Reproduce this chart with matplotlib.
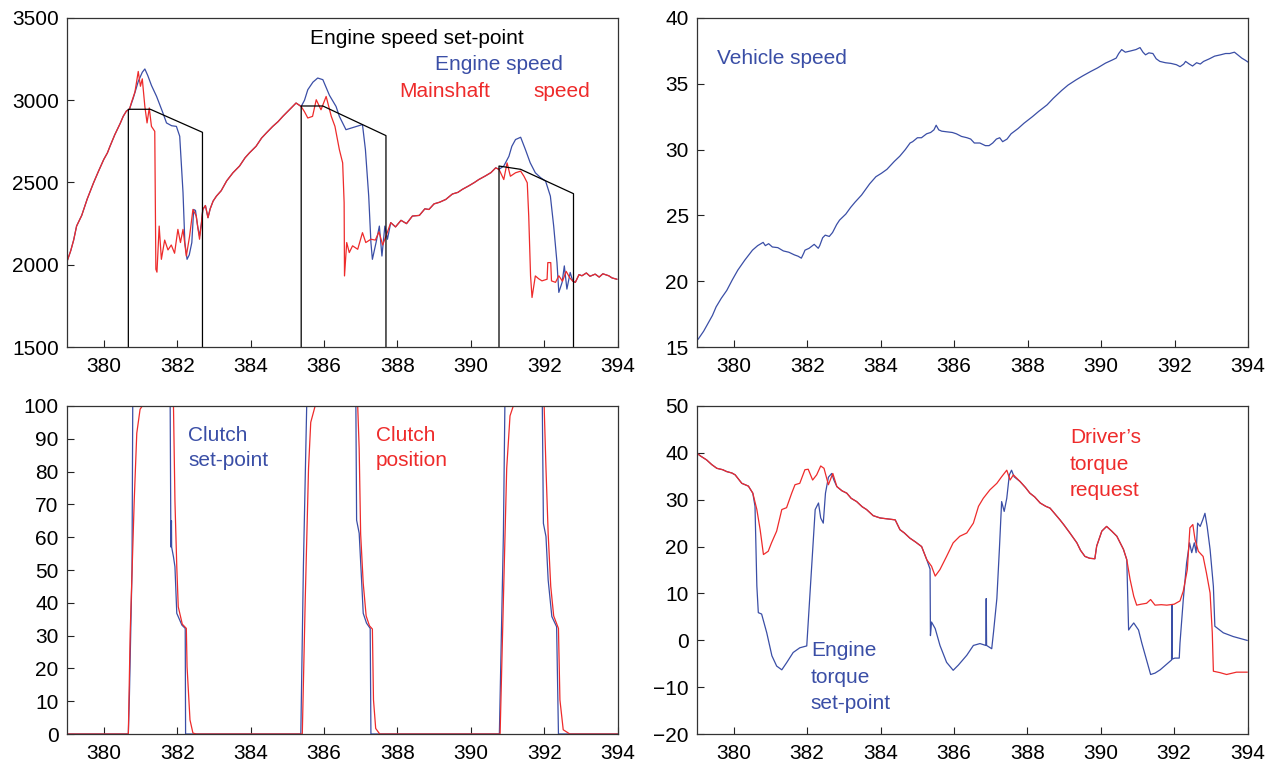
import matplotlib
matplotlib.use("Agg")
import matplotlib.pyplot as plt

BLUE = "#3a4ea6"
RED = "#ee2b2b"

# ---- engine / mainshaft speed (rpm) ----
rise1 = [(379.0, 2020), (379.1, 2085), (379.18, 2150), (379.26, 2235), (379.4, 2300),
         (379.55, 2400), (379.72, 2497), (379.85, 2565), (380.0, 2640), (380.1, 2680),
         (380.17, 2720), (380.3, 2790), (380.45, 2860), (380.53, 2902), (380.62, 2935)]
eng_pk1 = [(380.7, 2945), (380.8, 3010), (380.94, 3114), (381.05, 3170), (381.12, 3190),
           (381.2, 3150), (381.3, 3090), (381.44, 3023), (381.6, 2930), (381.71, 2862),
           (381.85, 2845), (381.98, 2841), (382.07, 2781), (382.16, 2438), (382.21, 2135),
           (382.27, 2033), (382.33, 2060), (382.4, 2135), (382.45, 2336), (382.5, 2330),
           (382.56, 2230), (382.61, 2175), (382.66, 2250)]
ms_pk1 = [(380.7, 2945), (380.76, 2990), (380.85, 3050), (380.94, 3175), (381.0, 3085),
          (381.05, 3130), (381.12, 2962), (381.18, 2862), (381.24, 2953), (381.3, 2841),
          (381.39, 2811), (381.42, 1973), (381.45, 1955), (381.51, 2235), (381.57, 2033),
          (381.66, 2150), (381.75, 2090), (381.84, 2120), (381.93, 2070), (382.02, 2215),
          (382.09, 2135), (382.16, 2215), (382.25, 2053), (382.34, 2175), (382.43, 2336),
          (382.52, 2296), (382.61, 2155), (382.66, 2250)]
rise2 = [(382.7, 2336), (382.77, 2360), (382.84, 2286), (382.9, 2340), (382.98, 2387),
         (383.07, 2417), (383.2, 2450), (383.35, 2510), (383.52, 2559), (383.7, 2600),
         (383.85, 2650), (383.97, 2680), (384.15, 2720), (384.3, 2770), (384.43, 2801),
         (384.6, 2840), (384.75, 2870), (384.88, 2902), (385.05, 2940), (385.24, 2983),
         (385.38, 2962)]
eng_pk2 = [(385.47, 3000), (385.56, 3064), (385.7, 3110), (385.83, 3135), (385.97, 3125),
           (386.15, 3030), (386.33, 2962), (386.42, 2902), (386.6, 2821), (386.8, 2835),
           (387.05, 2852), (387.13, 2700), (387.22, 2417), (387.28, 2135), (387.32, 2033),
           (387.42, 2135), (387.51, 2235), (387.58, 2053), (387.66, 2235), (387.73, 2155)]
ms_pk2 = [(385.47, 2930), (385.56, 2892), (385.69, 2902), (385.79, 3003), (385.92, 2942),
          (386.06, 3023), (386.2, 2902), (386.3, 2841), (386.42, 2700), (386.51, 2619),
          (386.55, 2377), (386.56, 1932), (386.62, 2135), (386.69, 2074), (386.78, 2115),
          (386.92, 2094), (387.05, 2195), (387.14, 2135), (387.28, 2155), (387.4, 2150),
          (387.5, 2200), (387.6, 2120), (387.7, 2180)]
rise3 = [(387.82, 2256), (387.95, 2230), (388.1, 2270), (388.25, 2250), (388.41, 2296),
         (388.6, 2300), (388.75, 2340), (388.86, 2336), (389.0, 2370), (389.15, 2380),
         (389.32, 2397), (389.5, 2430), (389.65, 2440), (389.77, 2458), (389.95, 2480),
         (390.1, 2500), (390.22, 2518), (390.4, 2540), (390.55, 2560), (390.68, 2589),
         (390.77, 2580)]
eng_pk3 = [(390.9, 2600), (391.04, 2659), (391.12, 2720), (391.22, 2761), (391.36, 2775),
           (391.49, 2700), (391.62, 2620), (391.76, 2559), (391.9, 2530), (392.04, 2508),
           (392.17, 2417), (392.26, 2235), (392.35, 2013), (392.4, 1832), (392.49, 1893),
           (392.55, 1993), (392.62, 1852), (392.71, 1953), (392.78, 1900)]
ms_pk3 = [(390.9, 2518), (390.99, 2619), (391.08, 2538), (391.22, 2559), (391.36, 2569),
          (391.45, 2538), (391.54, 2498), (391.58, 2296), (391.63, 1932), (391.67, 1801),
          (391.76, 1932), (391.85, 1915), (391.94, 1902), (392.08, 1912), (392.1, 2013),
          (392.18, 2013), (392.2, 1902), (392.31, 1893), (392.4, 1933), (392.5, 1900),
          (392.6, 1960), (392.7, 1920), (392.78, 1900)]
tail = [(392.85, 1893), (392.95, 1940), (393.03, 1933), (393.15, 1950), (393.25, 1930),
        (393.39, 1943), (393.5, 1925), (393.6, 1945), (393.76, 1933), (393.85, 1920),
        (393.98, 1912)]
setpoint_segs = [
    [(380.67, 1500), (380.67, 2945), (381.27, 2945), (382.69, 2805), (382.69, 1500)],
    [(385.38, 1500), (385.38, 2965), (385.97, 2965), (387.69, 2785), (387.69, 1500)],
    [(390.77, 1500), (390.77, 2600), (391.36, 2580), (392.8, 2432), (392.8, 1500)],
]

engine_speed = rise1 + eng_pk1 + rise2 + eng_pk2 + rise3 + eng_pk3 + tail
mainshaft_speed = rise1 + ms_pk1 + rise2 + ms_pk2 + rise3 + ms_pk3 + tail

# ---- vehicle speed (km/h) ----
vehicle_speed = [
    (379.0, 15.5), (379.04, 15.63), (379.18, 16.2), (379.32, 16.9), (379.42, 17.4),
    (379.52, 18.05), (379.66, 18.7), (379.81, 19.3), (379.96, 20.1), (380.11, 20.84),
    (380.3, 21.6), (380.51, 22.36), (380.65, 22.7), (380.8, 22.95), (380.86, 22.7),
    (380.95, 22.85), (381.05, 22.6), (381.2, 22.55), (381.35, 22.3), (381.5, 22.2),
    (381.65, 22.0), (381.75, 21.9), (381.84, 21.75), (381.9, 22.1), (381.94, 22.36),
    (382.05, 22.5), (382.19, 22.8), (382.3, 22.5), (382.34, 22.7), (382.42, 23.3),
    (382.49, 23.5), (382.6, 23.4), (382.69, 23.7), (382.8, 24.3), (382.88, 24.64),
    (383.05, 25.1), (383.18, 25.6), (383.3, 26.0), (383.48, 26.55), (383.7, 27.4),
    (383.87, 27.94), (384.02, 28.2), (384.17, 28.5), (384.37, 29.1), (384.52, 29.5),
    (384.67, 30.0), (384.8, 30.5), (384.87, 30.6), (385.0, 30.9), (385.11, 30.9),
    (385.25, 31.2), (385.36, 31.3), (385.45, 31.5), (385.51, 31.85), (385.58, 31.5),
    (385.66, 31.4), (385.8, 31.35), (385.95, 31.3), (386.06, 31.2), (386.2, 31.0),
    (386.35, 30.9), (386.45, 30.8), (386.55, 30.5), (386.7, 30.5), (386.85, 30.3),
    (386.95, 30.3), (387.05, 30.5), (387.15, 30.8), (387.24, 30.9), (387.32, 30.6),
    (387.44, 30.8), (387.55, 31.2), (387.74, 31.6), (387.9, 32.0), (388.13, 32.5),
    (388.3, 32.9), (388.53, 33.4), (388.7, 33.9), (388.93, 34.5), (389.1, 34.9),
    (389.32, 35.3), (389.5, 35.6), (389.72, 35.94), (389.9, 36.2), (390.12, 36.57),
    (390.3, 36.8), (390.41, 36.95), (390.48, 37.3), (390.56, 37.6), (390.66, 37.4),
    (390.81, 37.5), (390.95, 37.6), (391.06, 37.75), (391.14, 37.4), (391.21, 37.2),
    (391.3, 37.35), (391.41, 37.3), (391.5, 36.9), (391.6, 36.7), (391.75, 36.6),
    (391.9, 36.55), (392.05, 36.45), (392.15, 36.3), (392.25, 36.5), (392.3, 36.7),
    (392.4, 36.5), (392.49, 36.35), (392.6, 36.6), (392.7, 36.5), (392.79, 36.7),
    (392.95, 36.9), (393.09, 37.1), (393.25, 37.2), (393.39, 37.3), (393.5, 37.3),
    (393.63, 37.4), (393.72, 37.2), (393.83, 36.95), (393.92, 36.8), (394.0, 36.65),
]

# ---- clutch (%) ----
clutch_setpoint = [
    (379.0, 0), (380.67, 0), (380.7, 12), (380.77, 50), (380.79, 100), (381.81, 100),
    (381.83, 57), (381.845, 65), (381.85, 57), (381.9, 54), (381.94, 51), (381.99, 36.8),
    (382.13, 33.2), (382.22, 32.2), (382.23, 0), (385.37, 0), (385.44, 51), (385.53, 100),
    (386.87, 100), (386.89, 65.2), (386.96, 61.2), (387.03, 45.9), (387.07, 36.8),
    (387.16, 33.8), (387.26, 32.2), (387.28, 0), (390.78, 0), (390.89, 61), (390.93, 100),
    (391.95, 100), (391.98, 64.2), (392.05, 60.2), (392.11, 46.9), (392.21, 35.8),
    (392.34, 32.7), (392.39, 0), (394.0, 0),
]
clutch_position = [
    (379.0, 0), (380.67, 0), (380.72, 30.7), (380.83, 71), (380.9, 91.7), (380.99, 99),
    (381.05, 100), (381.9, 100), (381.94, 71), (381.99, 51), (382.03, 38.8), (382.14, 33.5),
    (382.25, 32.2), (382.27, 20.5), (382.35, 4.3), (382.43, 0.3), (382.52, 0),
    (385.41, 0), (385.49, 40.9), (385.58, 81), (385.64, 95), (385.76, 100),
    (386.92, 100), (386.96, 87), (387.0, 61), (387.07, 46), (387.15, 36), (387.24, 33),
    (387.32, 32), (387.35, 10.4), (387.41, 1.7), (387.52, 0),
    (390.8, 0), (390.89, 41), (390.98, 81), (391.07, 97), (391.16, 100),
    (392.0, 100), (392.05, 81), (392.11, 61), (392.18, 45), (392.26, 36), (392.39, 32.2),
    (392.43, 10.4), (392.52, 1.3), (392.7, 0), (394.0, 0),
]

# ---- torque (%) ----
tq_a = [(379.0, 39.9), (379.1, 39.3), (379.26, 38.5), (379.4, 37.5), (379.54, 36.7),
        (379.7, 36.4), (379.81, 36.0), (379.95, 35.7), (380.04, 35.3), (380.22, 33.5),
        (380.4, 32.9), (380.52, 31.4)]
tq_b = [(382.81, 32.8), (382.95, 31.9), (383.08, 31.4), (383.2, 30.3), (383.35, 29.6),
        (383.5, 28.5), (383.62, 27.9), (383.8, 26.6), (383.99, 26.1), (384.2, 25.9),
        (384.4, 25.7), (384.53, 23.6), (384.65, 22.9), (384.8, 21.8), (384.95, 21.0),
        (385.12, 20.0), (385.26, 17.2)]
tq_c = [(387.8, 33.9), (387.95, 32.6), (388.07, 31.4), (388.2, 30.6), (388.35, 29.3),
        (388.5, 28.6), (388.62, 28.2), (388.75, 27.0), (388.89, 25.7), (389.0, 24.6),
        (389.16, 22.9), (389.35, 20.8), (389.45, 19.2), (389.57, 17.9), (389.7, 17.5),
        (389.84, 17.4), (389.89, 20.1), (390.03, 23.3), (390.16, 24.3), (390.3, 23.3),
        (390.44, 22.2), (390.62, 19.4), (390.71, 17.2)]
drv_1 = [(380.63, 27.9), (380.72, 23.6), (380.81, 18.3), (380.94, 19.0), (381.03, 20.8),
         (381.17, 23.3), (381.31, 27.9), (381.44, 28.3), (381.58, 31.4), (381.67, 33.2),
         (381.8, 33.5), (381.94, 36.4), (382.03, 36.5), (382.15, 34.2), (382.26, 35.3),
         (382.37, 37.2), (382.46, 36.7), (382.58, 33.2), (382.7, 35.6)]
drv_2 = [(385.39, 15.8), (385.49, 13.7), (385.62, 15.1), (385.8, 17.9), (385.98, 20.8),
         (386.16, 22.2), (386.35, 22.9), (386.53, 25.0), (386.67, 28.6), (386.8, 30.3),
         (386.98, 32.1), (387.17, 33.5), (387.3, 34.9), (387.44, 36.3), (387.53, 34.2),
         (387.62, 35.3)]
drv_3 = [(390.8, 13.0), (390.9, 9.4), (390.98, 7.5), (391.1, 7.7), (391.25, 7.9),
         (391.36, 8.7), (391.48, 7.5), (391.65, 7.6), (391.8, 7.5), (392.0, 7.7),
         (392.16, 8.4), (392.25, 10.5), (392.36, 15.1), (392.43, 24.0), (392.51, 24.7),
         (392.57, 21.5), (392.66, 19.0), (392.79, 17.9), (392.88, 14.4), (392.98, 10.1),
         (393.04, 1.6), (393.07, -6.6), (393.25, -6.9), (393.43, -7.3), (393.7, -6.8),
         (393.99, -6.8)]
eng_1 = [(380.58, 28.6), (380.63, 11.6), (380.67, 5.9), (380.76, 5.6), (380.9, 1.6),
         (381.04, -3.3), (381.17, -5.5), (381.31, -6.3), (381.44, -4.8), (381.62, -2.6),
         (381.8, -1.6), (381.99, -1.2), (382.08, 10.1), (382.17, 21.5), (382.22, 27.9),
         (382.31, 29.3), (382.37, 26.1), (382.44, 25.0), (382.5, 31.4), (382.58, 34.8),
         (382.67, 35.6), (382.73, 34.2)]
eng_2 = [(385.35, 15.2), (385.36, 1.0), (385.39, 3.9), (385.49, 2.5), (385.62, -1.1),
         (385.8, -4.7), (385.98, -6.4), (386.12, -5.3), (386.35, -3.2), (386.53, -1.1),
         (386.71, -0.7), (386.87, -1.1), (386.88, 8.9), (386.89, -1.1), (387.03, -1.8),
         (387.08, 1.8), (387.17, 8.9), (387.24, 19.6), (387.3, 29.6), (387.37, 27.5),
         (387.44, 30.3), (387.51, 35.3), (387.57, 36.3), (387.64, 34.9)]
eng_3 = [(390.76, 2.2), (390.82, 2.9), (390.9, 3.7), (391.03, 2.2), (391.12, -0.6),
         (391.25, -4.2), (391.36, -7.3), (391.48, -7.0), (391.62, -6.3), (391.84, -4.8),
         (391.93, -4.2), (391.94, 7.6), (391.95, -4.0), (392.02, -3.8), (392.14, -3.8),
         (392.16, -0.6), (392.25, 8.7), (392.34, 16.5), (392.42, 20.8), (392.48, 18.7),
         (392.55, 20.8), (392.6, 18.7), (392.64, 25.0), (392.71, 24.3), (392.78, 25.7),
         (392.84, 27.1), (392.9, 24.3), (392.98, 19.4), (393.07, 11.5), (393.11, 3.0),
         (393.34, 1.6), (393.61, 0.8), (393.99, -0.02)]

driver_torque = tq_a + drv_1 + tq_b + drv_2 + tq_c + drv_3
engine_torque = tq_a + eng_1 + tq_b + eng_2 + tq_c + eng_3

x_ticks = [380, 382, 384, 386, 388, 390, 392, 394]


def style_axes(ax, ylim, yticks):
    ax.set_xlim(379, 394)
    ax.set_ylim(*ylim)
    ax.set_xticks(x_ticks)
    ax.set_yticks(yticks)
    ax.tick_params(direction="in", length=5, width=0.8, labelsize=15, pad=6,
                   colors="#222222", labelcolor="black")
    ax.tick_params(axis="x", pad=7)
    for sp in ax.spines.values():
        sp.set_color("#333333")
        sp.set_linewidth(0.9)


def draw(ax, pairs, color, lw=0.9):
    t, v = zip(*pairs)
    ax.plot(t, v, color=color, lw=lw)


plt.rcParams["font.family"] = ["Liberation Sans", "DejaVu Sans"]

fig = plt.figure(figsize=(12.82, 7.65), dpi=100)
ax1 = fig.add_axes([0.0523, 0.5464, 0.4294, 0.4301])
ax2 = fig.add_axes([0.5437, 0.5464, 0.4298, 0.4301])
ax3 = fig.add_axes([0.0523, 0.0405, 0.4294, 0.4288])
ax4 = fig.add_axes([0.5437, 0.0405, 0.4294, 0.4288])

# top left
draw(ax1, engine_speed, BLUE)
draw(ax1, mainshaft_speed, RED)
for seg in setpoint_segs:
    draw(ax1, seg, "black")
style_axes(ax1, (1500, 3500), [1500, 2000, 2500, 3000, 3500])
ax1.text(385.62, 3378, "Engine speed set-point", fontsize=15, va="center")
ax1.text(389.03, 3215, "Engine speed", fontsize=15, va="center", color=BLUE)
ax1.text(388.05, 3056, "Mainshaft", fontsize=15, va="center", color=RED)
ax1.text(391.7, 3056, "speed", fontsize=15, va="center", color=RED)

# top right
draw(ax2, vehicle_speed, BLUE)
style_axes(ax2, (15, 40), [15, 20, 25, 30, 35, 40])
ax2.text(379.54, 36.89, "Vehicle speed", fontsize=15, va="center", color=BLUE)

# bottom left
draw(ax3, clutch_setpoint, BLUE)
draw(ax3, clutch_position, RED)
style_axes(ax3, (0, 100), list(range(0, 101, 10)))
ax3.text(382.3, 93.9, "Clutch\nset-point", fontsize=15, va="top", color=BLUE,
         linespacing=1.38)
ax3.text(387.42, 93.9, "Clutch\nposition", fontsize=15, va="top", color=RED,
         linespacing=1.38)

# bottom right
draw(ax4, engine_torque, BLUE)
draw(ax4, driver_torque, RED)
style_axes(ax4, (-20, 50), list(range(-20, 51, 10)))
ax4.text(389.16, 45.3, "Driver\u2019s\ntorque\nrequest", fontsize=15, va="top",
         color=RED, linespacing=1.5)
ax4.text(382.1, -0.25, "Engine\ntorque\nset-point", fontsize=15, va="top",
         color=BLUE, linespacing=1.5)

fig.savefig("out.png", dpi=100)
